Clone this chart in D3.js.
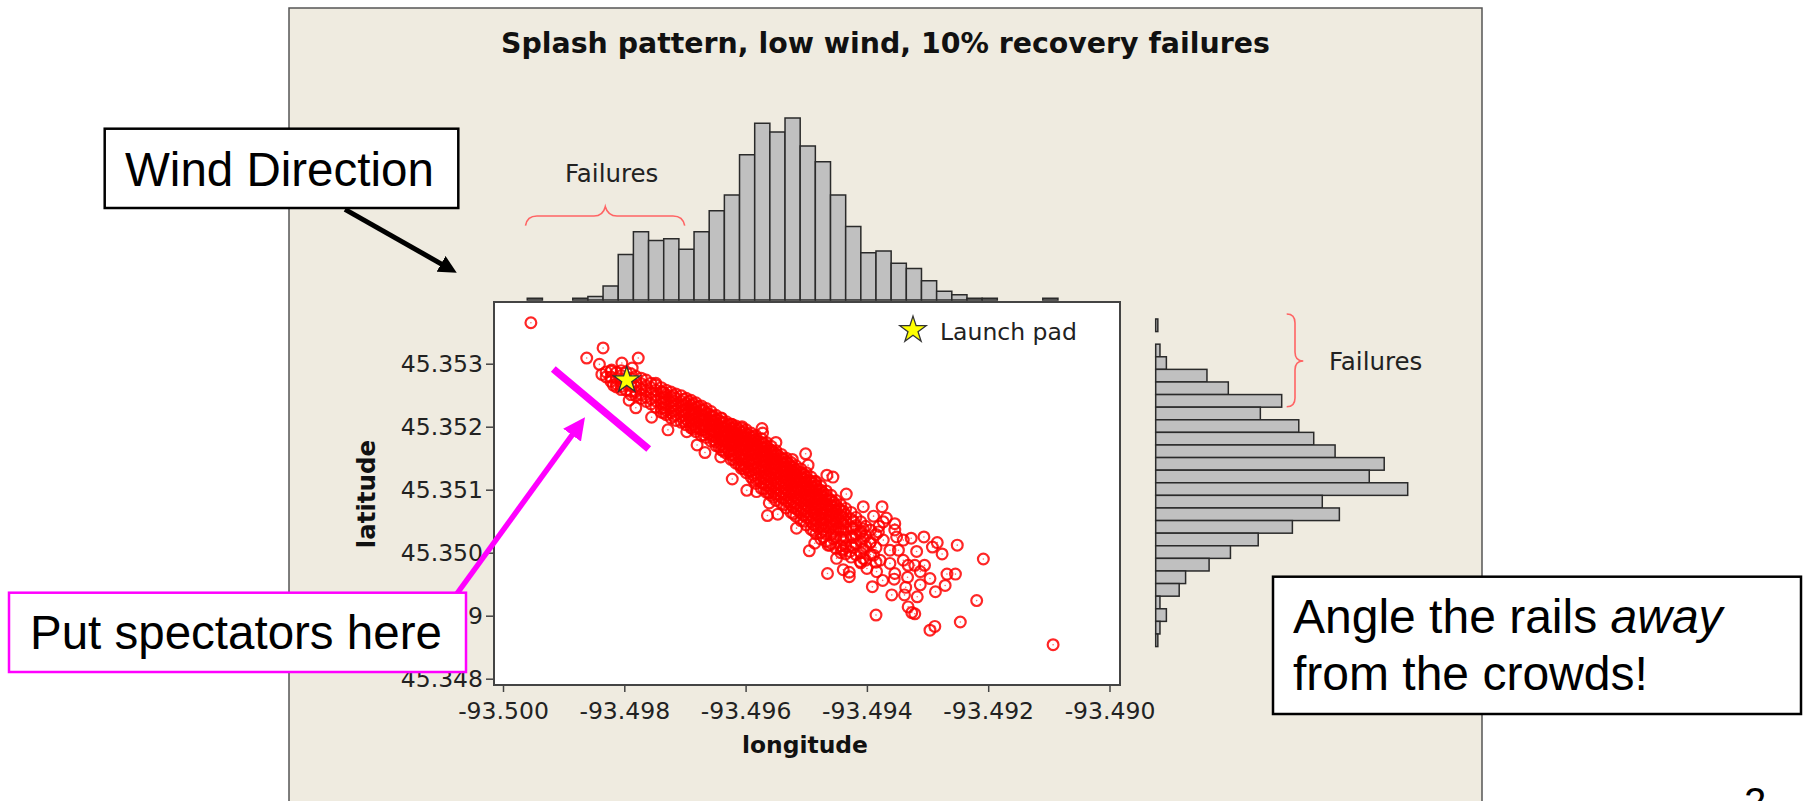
<!DOCTYPE html>
<html>
<head>
<meta charset="utf-8">
<script src="https://cdn.jsdelivr.net/npm/d3@7"></script>
<style>
body { margin: 0; background: white; }
svg { display: block; }
</style>
</head>
<body>
<div id="canvas"></div>
<script>
var width = 1804;
var height = 801;

// histogram along the top, counts per longitude bin
const lonBinStart = -93.4996;
const lonBinStep = 0.00025;
const lonCounts = [1,0,0,1,2,8,26,39,34,35,29,39,51,60,83,101,96,104,88,79,60,42,27,28,21,18,11,5,3,1,1,0,0,0,1];

// histogram on the right, counts per latitude bin, top bin first
const latBinTop = 45.35371;
const latBinStep = 0.0002;
const latCounts = [1,0,2,5,24,34,59,49,67,74,84,107,100,118,78,86,64,48,35,25,14,11,2,5,2,1];

const lonTicks = [-93.500,-93.498,-93.496,-93.494,-93.492,-93.490];
const latTicks = [45.348,45.349,45.350,45.351,45.352,45.353];
const launchPad = [-93.49796,45.35274];

// points that can be told apart in the picture
const loosePoints = [
[-93.49954,45.35365],[-93.49835,45.35325],[-93.49862,45.35309],[-93.49841,45.35299],[-93.49804,45.35301],[-93.49777,45.35309],
[-93.49837,45.35283],[-93.49821,45.35290],[-93.49818,45.35266],[-93.49787,45.35293],[-93.49748,45.35269],[-93.49737,45.35255],
[-93.49792,45.35242],[-93.49781,45.35230],[-93.49755,45.35215],[-93.49728,45.35195],[-93.49697,45.35192],[-93.49680,45.35171],
[-93.49667,45.35159],[-93.49640,45.35214],[-93.49623,45.35204],[-93.49606,45.35200],[-93.49573,45.35197],[-93.49572,45.35190],
[-93.49550,45.35175],[-93.49523,45.35148],[-93.49501,45.35157],[-93.49497,45.35139],[-93.49466,45.35123],[-93.49456,45.35120],
[-93.49434,45.35093],[-93.49406,45.35073],[-93.49375,45.35073],[-93.49354,45.35046],[-93.49389,45.35058],[-93.49380,45.35042],
[-93.49368,45.35055],[-93.49327,45.35023],[-93.49306,45.35025],[-93.49284,45.35016],[-93.49292,45.35009],[-93.49276,45.34998],
[-93.49251,45.35012],[-93.49208,45.34990],[-93.49268,45.34966],[-93.49254,45.34966],[-93.49271,45.34948],[-93.49287,45.34938],
[-93.49219,45.34924],[-93.49246,45.34890],[-93.49288,45.34883],[-93.49296,45.34877],[-93.49321,45.34903],[-93.49332,45.34914],
[-93.49326,45.34905],[-93.49317,45.34930],[-93.49338,45.34933],[-93.49359,45.34933],[-93.49391,45.34946],[-93.49385,45.34901],
[-93.49465,45.34967],[-93.49439,45.34973],[-93.49429,45.34969],[-93.49429,45.34962],[-93.49495,45.35003],[-93.49450,45.34991],
[-93.49486,45.35015],[-93.49093,45.34854],[-93.49333,45.34961],[-93.49355,45.34958],[-93.49374,45.34956],[-93.49336,45.34945],
[-93.49312,45.34949],[-93.49296,45.34959],[-93.49305,45.34980],[-93.49318,45.35002],[-93.49321,45.34980],[-93.49340,45.34988],
[-93.49362,45.34983],[-93.49351,45.35025],[-93.49340,45.35020],[-93.49373,45.35020],[-93.49406,45.34991],[-93.49389,45.34996],
[-93.49378,45.34988],[-93.49362,45.35004],[-93.49348,45.35004],[-93.49332,45.34980],[-93.49312,45.34970],[-93.49384,45.34970],
[-93.49400,45.34975],[-93.49411,45.34986],[-93.49411,45.35031],[-93.49428,45.35002],[-93.49441,45.35004],[-93.49461,45.35012],
[-93.49395,45.35015],[-93.49381,45.35033],[-93.49354,45.35036],[-93.49373,45.35049],[-93.49354,45.34967],[-93.49598,45.35099],
[-93.49582,45.35097],[-93.49564,45.35059],[-93.49547,45.35061],[-93.49561,45.35079],[-93.49641,45.35152],[-93.49622,45.35117],
[-93.49486,45.35113],[-93.49516,45.35039],[-93.49464,45.35012]
];

// the solid band, estimated column by column
const coreLons = [-93.4983,-93.49822,-93.49813,-93.49805,-93.49797,-93.49789,-93.49781,-93.49772,-93.49764,-93.49756,
-93.49748,-93.49739,-93.49731,-93.49723,-93.49715,-93.49706,-93.49698,-93.4969,-93.49682,-93.49673,
-93.49665,-93.49657,-93.49649,-93.4964,-93.49632,-93.49624,-93.49616,-93.49607,-93.49599,-93.49591,
-93.49583,-93.49574,-93.49566,-93.49558,-93.4955,-93.49541,-93.49533,-93.49525,-93.49517,-93.49509,
-93.495,-93.49492,-93.49484,-93.49476,-93.49467,-93.49459,-93.49451,-93.49443,-93.49435,-93.49426,
-93.49418,-93.4941,-93.49402,-93.49394,-93.49385,
-93.49735,-93.49719,-93.49702,-93.49686,-93.49669,-93.49653,-93.49636,-93.4962,-93.49603,-93.49587,
-93.4957,-93.49554,-93.49537,-93.49521,-93.49504,-93.49488,-93.49472,-93.49455,-93.49439,-93.49422,-93.49406,
-93.49694,-93.49677,-93.49661,-93.49644,-93.49628,-93.49611,-93.49595,-93.49579,-93.49562,-93.49546,
-93.49529,-93.49513,-93.49496,-93.4948,-93.49463,-93.49447];
const coreLats = [
[45.35287,45.35279],
[45.35288,45.35279,45.35272],
[45.35286,45.35277,45.35268,45.35263],
[45.35289,45.35281,45.35271,45.35264,45.35259],
[45.35287,45.35277,45.35268,45.35258],
[45.35284,45.35276,45.35265,45.35256,45.35251],
[45.35280,45.35271,45.35263,45.35256,45.35249],
[45.35277,45.35268,45.35259,45.35251,45.35245],
[45.35274,45.35265,45.35257,45.35247,45.35240],
[45.35269,45.35262,45.35254,45.35244,45.35236],
[45.35266,45.35258,45.35249,45.35241,45.35231],
[45.35262,45.35255,45.35245,45.35237,45.35229,45.35223],
[45.35258,45.35251,45.35243,45.35234,45.35226,45.35219],
[45.35255,45.35247,45.35239,45.35230,45.35222,45.35214],
[45.35252,45.35245,45.35236,45.35227,45.35219,45.35210],
[45.35249,45.35240,45.35233,45.35224,45.35216,45.35207],
[45.35245,45.35237,45.35229,45.35221,45.35212,45.35203],
[45.35242,45.35234,45.35226,45.35218,45.35210,45.35202,45.35198],
[45.35238,45.35231,45.35223,45.35215,45.35207,45.35199,45.35192],
[45.35233,45.35226,45.35218,45.35211,45.35203,45.35195,45.35186],
[45.35229,45.35222,45.35214,45.35207,45.35199,45.35191,45.35183],
[45.35224,45.35217,45.35210,45.35203,45.35195,45.35187,45.35177],
[45.35218,45.35211,45.35205,45.35198,45.35190,45.35183,45.35176,45.35170],
[45.35213,45.35207,45.35200,45.35193,45.35186,45.35179,45.35171,45.35163],
[45.35208,45.35202,45.35195,45.35188,45.35181,45.35174,45.35167,45.35158],
[45.35204,45.35198,45.35191,45.35184,45.35177,45.35170,45.35162,45.35155,45.35148],
[45.35201,45.35195,45.35188,45.35181,45.35174,45.35167,45.35159,45.35151,45.35142],
[45.35198,45.35191,45.35184,45.35177,45.35170,45.35163,45.35155,45.35147,45.35138,45.35134],
[45.35195,45.35189,45.35182,45.35175,45.35168,45.35161,45.35153,45.35145,45.35136,45.35127],
[45.35190,45.35184,45.35177,45.35170,45.35163,45.35155,45.35147,45.35139,45.35130,45.35120],
[45.35186,45.35180,45.35173,45.35166,45.35159,45.35151,45.35143,45.35135,45.35126,45.35117,45.35110],
[45.35181,45.35175,45.35168,45.35161,45.35154,45.35146,45.35138,45.35130,45.35121,45.35112,45.35102],
[45.35175,45.35169,45.35162,45.35155,45.35148,45.35140,45.35132,45.35124,45.35116,45.35107,45.35096],
[45.35169,45.35163,45.35157,45.35150,45.35143,45.35135,45.35127,45.35119,45.35110,45.35101,45.35091],
[45.35162,45.35156,45.35149,45.35142,45.35135,45.35127,45.35119,45.35111,45.35102,45.35093,45.35083],
[45.35156,45.35150,45.35144,45.35137,45.35129,45.35122,45.35114,45.35106,45.35097,45.35088,45.35078],
[45.35150,45.35144,45.35137,45.35130,45.35123,45.35116,45.35108,45.35100,45.35091,45.35082,45.35071],
[45.35143,45.35137,45.35131,45.35124,45.35117,45.35109,45.35101,45.35093,45.35085,45.35076,45.35064],
[45.35138,45.35132,45.35125,45.35118,45.35111,45.35103,45.35095,45.35087,45.35079,45.35070,45.35058],
[45.35133,45.35127,45.35120,45.35113,45.35105,45.35098,45.35090,45.35082,45.35073,45.35063,45.35051],
[45.35127,45.35120,45.35113,45.35106,45.35098,45.35091,45.35083,45.35075,45.35066,45.35056,45.35044],
[45.35120,45.35113,45.35106,45.35099,45.35091,45.35084,45.35076,45.35068,45.35059,45.35049,45.35037],
[45.35113,45.35106,45.35100,45.35093,45.35085,45.35077,45.35069,45.35061,45.35052,45.35042,45.35030],
[45.35106,45.35099,45.35092,45.35085,45.35077,45.35069,45.35061,45.35052,45.35042,45.35032,45.35022],
[45.35098,45.35091,45.35084,45.35076,45.35068,45.35060,45.35051,45.35041,45.35030,45.35018],
[45.35091,45.35083,45.35075,45.35067,45.35059,45.35050,45.35040,45.35029,45.35015],
[45.35083,45.35075,45.35067,45.35058,45.35048,45.35037,45.35025,45.35007],
[45.35076,45.35067,45.35058,45.35048,45.35037,45.35025,45.35011,45.35000],
[45.35070,45.35060,45.35049,45.35037,45.35024,45.35010,45.34998],
[45.35064,45.35053,45.35040,45.35026,45.35012,45.34993],
[45.35056,45.35043,45.35029,45.35014,45.34997],
[45.35049,45.35034,45.35018,45.35000,45.34984],
[45.35042,45.35027,45.35010,45.34988],
[45.35036,45.35017,45.34997],
[45.35029,45.35008,45.34985],
[45.35254,45.35247,45.35239,45.35230,45.35222],
[45.35249,45.35241,45.35233,45.35225,45.35217],
[45.35243,45.35235,45.35226,45.35218,45.35209],
[45.35236,45.35228,45.35220,45.35212,45.35204,45.35196],
[45.35226,45.35218,45.35210,45.35203,45.35195,45.35187],
[45.35216,45.35209,45.35202,45.35194,45.35186,45.35179],
[45.35206,45.35199,45.35192,45.35185,45.35177,45.35169,45.35161],
[45.35198,45.35192,45.35185,45.35178,45.35171,45.35163,45.35155,45.35148],
[45.35192,45.35186,45.35179,45.35172,45.35165,45.35157,45.35149,45.35140,45.35133],
[45.35184,45.35178,45.35171,45.35164,45.35156,45.35149,45.35141,45.35132,45.35123,45.35115],
[45.35173,45.35166,45.35159,45.35152,45.35144,45.35136,45.35128,45.35119,45.35110,45.35101],
[45.35160,45.35154,45.35147,45.35140,45.35132,45.35124,45.35115,45.35106,45.35097,45.35088],
[45.35148,45.35141,45.35134,45.35127,45.35119,45.35111,45.35103,45.35095,45.35086,45.35076],
[45.35135,45.35128,45.35121,45.35114,45.35106,45.35098,45.35090,45.35081,45.35072,45.35062],
[45.35124,45.35117,45.35110,45.35102,45.35094,45.35086,45.35078,45.35070,45.35060,45.35050],
[45.35110,45.35103,45.35096,45.35088,45.35080,45.35072,45.35064,45.35055,45.35045,45.35035],
[45.35095,45.35088,45.35080,45.35072,45.35064,45.35055,45.35046,45.35036,45.35025],
[45.35080,45.35072,45.35063,45.35054,45.35045,45.35034,45.35022],
[45.35066,45.35056,45.35046,45.35034,45.35020,45.35006],
[45.35050,45.35038,45.35024,45.35008],
[45.35038,45.35022,45.35006],
[45.35240,45.35224,45.35208],
[45.35232,45.35214,45.35198],
[45.35220,45.35205,45.35189],
[45.35210,45.35195,45.35180,45.35168],
[45.35203,45.35188,45.35174,45.35160],
[45.35195,45.35182,45.35168,45.35153,45.35140],
[45.35187,45.35174,45.35160,45.35146,45.35130],
[45.35177,45.35163,45.35149,45.35134,45.35118],
[45.35165,45.35151,45.35137,45.35122,45.35106,45.35095],
[45.35154,45.35140,45.35125,45.35110,45.35093],
[45.35141,45.35127,45.35113,45.35097,45.35081],
[45.35128,45.35114,45.35100,45.35085,45.35068],
[45.35115,45.35102,45.35088,45.35073,45.35056],
[45.35100,45.35087,45.35073,45.35058,45.35040],
[45.35086,45.35072,45.35057,45.35040],
[45.35070,45.35055,45.35039]
];

const points = loosePoints.slice();
coreLons.forEach((lon, i) => coreLats[i].forEach(lat => points.push([lon, lat])));

var svg = d3.select("#canvas").append("svg")
			.attr("width",width)
			.attr("height",height)
			.style("background-color","white")

const tickFont = '"DejaVu Sans", sans-serif';
const boxFont = '"Liberation Sans", Arial, sans-serif';

const xScale = d3.scaleLinear().domain([-93.5, -93.49]).range([503, 1109.5]);
const yScale = d3.scaleLinear().domain([45.348, 45.353]).range([678.7, 363.7]);
const topCount = d3.scaleLinear().domain([0, d3.max(lonCounts)]).range([300, 118]);
const sideCount = d3.scaleLinear().domain([0, d3.max(latCounts)]).range([1155.7, 1407.7]);

// slide panel
svg.append("rect").attr("x",289).attr("y",8).attr("width",1193).attr("height",900)
	.attr("fill","#efebe0").attr("stroke","#555").attr("stroke-width",1.5);

svg.append("text").attr("x",501).attr("y",53)
	.style("font",'bold 28.4px ' + tickFont).attr("fill","#111")
	.text("Splash pattern, low wind, 10% recovery failures");

// top histogram
svg.selectAll(".lonbar").data(lonCounts).enter().append("rect")
	.attr("class","lonbar")
	.attr("x",(d,i) => xScale(lonBinStart + i*lonBinStep))
	.attr("width",xScale(lonBinStep - 93.5) - xScale(-93.5))
	.attr("y",d => topCount(d))
	.attr("height",d => topCount(0) - topCount(d))
	.attr("fill","#c0c0c0").attr("stroke","#2a2a2a").attr("stroke-width",1.5);

// side histogram
svg.selectAll(".latbar").data(latCounts).enter().append("rect")
	.attr("class","latbar")
	.attr("x",sideCount(0))
	.attr("y",(d,i) => yScale(latBinTop - i*latBinStep))
	.attr("height",yScale(45.35) - yScale(45.35 + latBinStep))
	.attr("width",d => sideCount(d) - sideCount(0))
	.attr("fill","#c0c0c0").attr("stroke","#2a2a2a").attr("stroke-width",1.5);

// scatter frame
svg.append("rect").attr("x",494).attr("y",302).attr("width",626).attr("height",383)
	.attr("fill","white").attr("stroke","#444").attr("stroke-width",2);

const defs = svg.append("defs");
defs.append("filter").attr("id","soft").append("feGaussianBlur").attr("stdDeviation",0.35);

const dots = svg.append("g").attr("filter","url(#soft)");
dots.selectAll(".ring").data(points).enter().append("circle")
	.attr("class","ring")
	.attr("cx",d => xScale(d[0])).attr("cy",d => yScale(d[1])).attr("r",5.4)
	.attr("fill","none").attr("stroke","red").attr("stroke-opacity",0.85).attr("stroke-width",2.2);
dots.selectAll(".pip").data(points).enter().append("circle")
	.attr("class","pip")
	.attr("cx",d => xScale(d[0])).attr("cy",d => yScale(d[1])).attr("r",0.8)
	.attr("fill","red").attr("fill-opacity",0.6);

const star = d3.symbol().type(d3.symbolStar).size(215);
svg.append("path").attr("d",star)
	.attr("transform","translate(" + xScale(launchPad[0]) + "," + yScale(launchPad[1]) + ")")
	.attr("fill","#ffff00").attr("stroke","#333").attr("stroke-width",1.3);
svg.append("path").attr("d",star)
	.attr("transform","translate(913,330)")
	.attr("fill","#ffff00").attr("stroke","#333").attr("stroke-width",1.3);
svg.append("text").attr("x",940).attr("y",340)
	.style("font",'23.5px ' + tickFont).attr("fill","#222").text("Launch pad");

// axes
const xAxis = d3.axisBottom(xScale).tickValues(lonTicks).tickFormat(d3.format(".3f")).tickSize(7).tickSizeOuter(0);
const yAxis = d3.axisLeft(yScale).tickValues(latTicks).tickFormat(d3.format(".3f")).tickSize(8).tickSizeOuter(0);
const gx = svg.append("g").attr("transform","translate(0,685)").call(xAxis);
const gy = svg.append("g").attr("transform","translate(494,0)").call(yAxis);
[gx, gy].forEach(g => {
	g.select(".domain").remove();
	g.selectAll("line").attr("stroke","#444").attr("stroke-width",1.5);
	g.selectAll("text").style("font",'23.5px ' + tickFont).attr("fill","#222");
});
gx.selectAll("text").text(d => d3.format(".3f")(d).replace("\u2212","-")).attr("y",17);

svg.append("text").attr("x",805).attr("y",753).attr("text-anchor","middle")
	.style("font",'bold 23.4px ' + tickFont).attr("fill","#111").text("longitude");
svg.append("text").attr("transform","translate(374.5,494) rotate(-90)").attr("text-anchor","middle")
	.style("font",'bold 24.5px ' + tickFont).attr("fill","#111").text("latitude");

// braces and labels
svg.append("path").attr("fill","none").attr("stroke","#ff6464").attr("stroke-width",1.6)
	.attr("d","M525.5,225.7 Q527,216 537,216 L594,216 Q603,216 605.3,206.7 Q608,216 617,216 L673,216 Q683,216 684.7,225.7");
svg.append("path").attr("fill","none").attr("stroke","#ff6464").attr("stroke-width",1.6)
	.attr("d","M1286.7,314 Q1295,314 1295,323 L1295,352 Q1295,361 1303.3,361 Q1295,361 1295,370 L1295,398 Q1295,406.7 1286.7,406.7");
svg.append("text").attr("x",565).attr("y",181.7).style("font",'24.5px ' + tickFont).attr("fill","#222").text("Failures");
svg.append("text").attr("x",1329).attr("y",370).style("font",'24.5px ' + tickFont).attr("fill","#222").text("Failures");

// callouts
[["blackHead","#000",18,1.67],["pinkHead","#ff00ff",22,1.82]].forEach(m => {
	defs.append("marker").attr("id",m[0]).attr("markerUnits","userSpaceOnUse")
		.attr("viewBox","0 0 10 10").attr("refX",m[3]).attr("refY",5)
		.attr("markerWidth",m[2]).attr("markerHeight",m[2]).attr("orient","auto")
		.append("path").attr("d","M0,0 L10,5 L0,10 Z").attr("fill",m[1]);
});
svg.append("line").attr("x1",345).attr("y1",209.3).attr("x2",443.7).attr("y2",265.3)
	.attr("stroke","#000").attr("stroke-width",5).attr("marker-end","url(#blackHead)");
svg.append("line").attr("x1",456.7).attr("y1",594).attr("x2",574.4).attr("y2",431.9)
	.attr("stroke","#ff00ff").attr("stroke-width",5.5).attr("marker-end","url(#pinkHead)");
svg.append("line").attr("x1",553.3).attr("y1",369).attr("x2",648.7).attr("y2",449)
	.attr("stroke","#ff00ff").attr("stroke-width",7.5);

svg.append("rect").attr("x",104.7).attr("y",128.7).attr("width",353.6).attr("height",79.3)
	.attr("fill","white").attr("stroke","#000").attr("stroke-width",2.5);
svg.append("text").attr("x",125).attr("y",186).style("font",'47.5px ' + boxFont).attr("fill","#000").text("Wind Direction");

svg.append("rect").attr("x",9).attr("y",592.7).attr("width",457).attr("height",79.3)
	.attr("fill","white").attr("stroke","#ff00ff").attr("stroke-width",2.5);
svg.append("text").attr("x",30).attr("y",649.3).style("font",'47.5px ' + boxFont).attr("fill","#000").text("Put spectators here");

svg.append("rect").attr("x",1273).attr("y",576.7).attr("width",528).attr("height",137.3)
	.attr("fill","white").attr("stroke","#000").attr("stroke-width",2.5);
const angle = svg.append("text").attr("x",1293).attr("y",633).style("font",'48px ' + boxFont).attr("fill","#000");
angle.append("tspan").text("Angle the rails ");
angle.append("tspan").style("font-style","italic").text("away");
svg.append("text").attr("x",1293).attr("y",690).style("font",'48px ' + boxFont).attr("fill","#000").text("from the crowds!");

svg.append("text").attr("x",1744).attr("y",816).style("font",'40px ' + boxFont).attr("fill","#000").text("2");
</script>
</body>
</html>
